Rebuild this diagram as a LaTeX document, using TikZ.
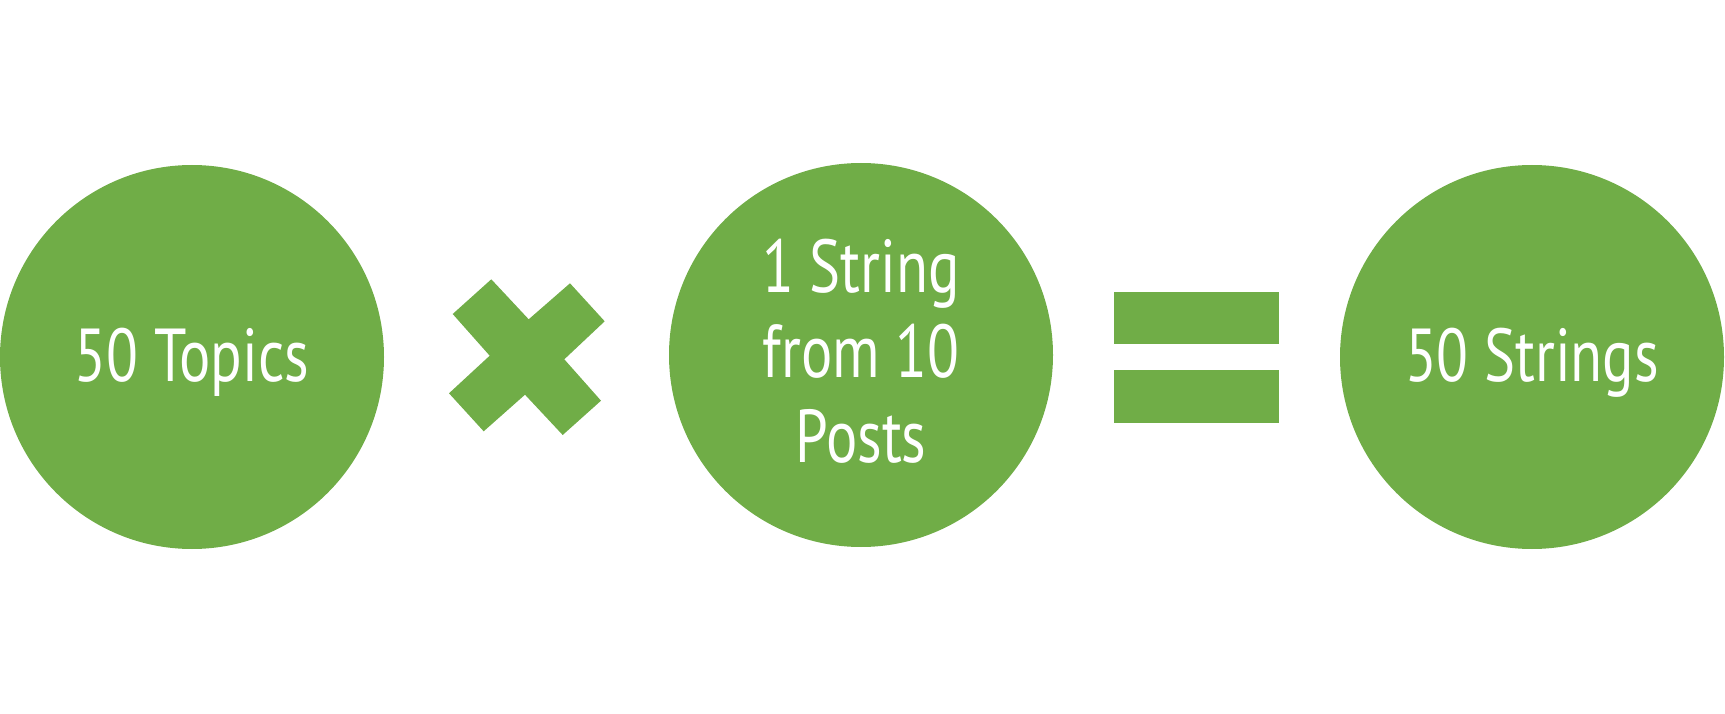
\documentclass[tikz,border=0pt]{standalone}
\usepackage{fontspec}
\setmainfont{PT Sans}[FakeStretch=0.78]
\definecolor{leaf}{HTML}{70AD47}
\tikzset{
  disc/.style={circle, fill=leaf, draw=none, minimum size=384pt, inner sep=0pt},
  word/.style={text=white, font=\fontsize{75}{85}\selectfont, inner sep=0pt, anchor=base},
  bar/.style={fill=leaf, draw=none}
}
\begin{document}
\begin{tikzpicture}[x=1pt,y=-1pt]
\useasboundingbox (0,0) rectangle (1725,714);
\node[disc] (topics) at (192,357) {};
\node[disc] (mid) at (861,355) {};
\node[disc] (strings) at (1532,357) {};
\node[word] (t1) at (192,381) {50 Topics};
\node[word] (m1) at (861,293) {1 String};
\node[word] (m2) at (861,377) {from 10};
\node[word] (m3) at (861,462) {Posts};
\node[word] (s1) at (1532,381) {50 Strings};
% multiplication sign
\fill[leaf] (452.7,314) -- (491.3,279.3) -- (528.7,319.3) -- (570,283.3) -- (604.7,321.3)
  -- (564.3,359.3) -- (601,400.7) -- (562.7,435) -- (525,394.7) -- (483.7,431.3)
  -- (449,393.3) -- (489.7,355.7) -- cycle;
% equals sign
\fill[bar] (1114,292) rectangle (1279,344);
\fill[bar] (1114,370) rectangle (1279,423);
\end{tikzpicture}
\end{document}
